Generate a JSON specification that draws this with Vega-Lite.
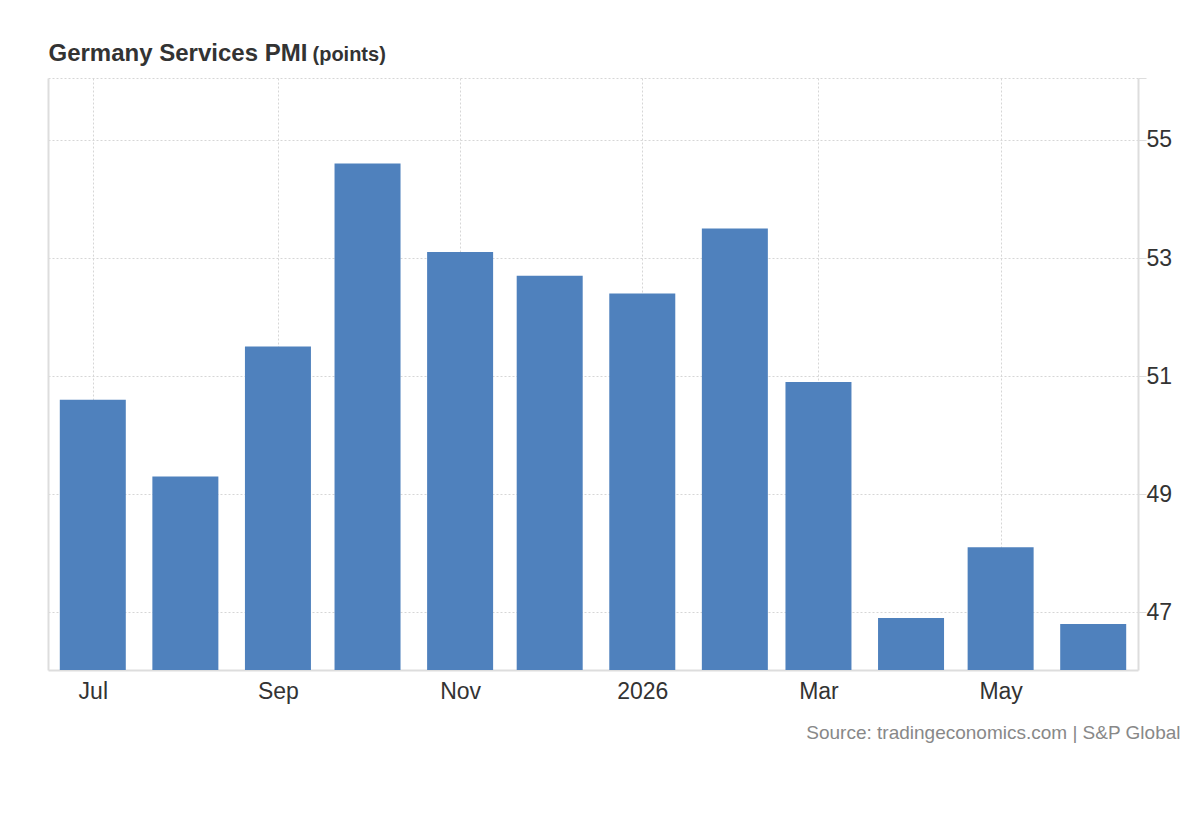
{
  "$schema": "https://vega.github.io/schema/vega-lite/v6.json",
  "autosize": {"type": "none"},
  "padding": {"left": 48, "top": 78, "right": 62, "bottom": 150},
  "width": 1090,
  "height": 592,
  "background": "white",
  "config": {
    "view": {"stroke": null},
    "font": "Liberation Sans"
  },
  "data": {
    "values": [
      {"month": "2025-07-01", "pmi": 50.6},
      {"month": "2025-08-01", "pmi": 49.3},
      {"month": "2025-09-01", "pmi": 51.5},
      {"month": "2025-10-01", "pmi": 54.6},
      {"month": "2025-11-01", "pmi": 53.1},
      {"month": "2025-12-01", "pmi": 52.7},
      {"month": "2026-01-01", "pmi": 52.4},
      {"month": "2026-02-01", "pmi": 53.5},
      {"month": "2026-03-01", "pmi": 50.9},
      {"month": "2026-04-01", "pmi": 46.9},
      {"month": "2026-05-01", "pmi": 48.1},
      {"month": "2026-06-01", "pmi": 46.8}
    ]
  },
  "layer": [
    {
      "mark": {"type": "bar", "width": 66, "color": "#4f81bd", "clip": true},
      "encoding": {
        "x": {
          "field": "month",
          "type": "temporal",
          "scale": {
            "type": "utc",
            "padding": 0,
            "domain": [
              {"year": 2025, "month": 6, "date": 16, "utc": true},
              {"year": 2026, "month": 6, "date": 16, "utc": true}
            ]
          },
          "axis": {
            "values": [
              {"year": 2025, "month": 7, "date": 1, "utc": true},
              {"year": 2025, "month": 9, "date": 1, "utc": true},
              {"year": 2025, "month": 11, "date": 1, "utc": true},
              {"year": 2026, "month": 1, "date": 1, "utc": true},
              {"year": 2026, "month": 3, "date": 1, "utc": true},
              {"year": 2026, "month": 5, "date": 1, "utc": true}
            ],
            "labelExpr": "utcmonth(datum.value) == 0 ? utcFormat(datum.value, '%Y') : utcFormat(datum.value, '%b')",
            "labelFontSize": 23,
            "labelColor": "#333333",
            "labelPadding": 10,
            "ticks": false,
            "domainColor": "#dddddd",
            "domainWidth": 2,
            "grid": true,
            "gridColor": "#d6d6d6",
            "gridDash": [2, 2],
            "title": "Source: tradingeconomics.com | S&P Global",
            "titleFontSize": 19,
            "titleFontWeight": "normal",
            "titleColor": "#888888",
            "titleAlign": "right",
            "titleBaseline": "alphabetic",
            "titleX": 1132,
            "titleY": 68
          }
        },
        "y": {
          "field": "pmi",
          "type": "quantitative",
          "scale": {"domain": [46.02, 56.05], "zero": false, "nice": false},
          "axis": {
            "orient": "right",
            "values": [47, 49, 51, 53, 55, 56.05],
            "labelExpr": "datum.value > 55.5 ? '' : datum.label",
            "labelFontSize": 23,
            "labelColor": "#333333",
            "labelPadding": 0,
            "tickSize": 8,
            "tickColor": "#dddddd",
            "domainColor": "#dddddd",
            "domainWidth": 2,
            "grid": true,
            "gridColor": "#d6d6d6",
            "gridDash": [2, 2],
            "title": "(points)",
            "titleAngle": 0,
            "titleFontSize": 20,
            "titleFontWeight": "bold",
            "titleColor": "#333333",
            "titleAlign": "left",
            "titleBaseline": "alphabetic",
            "titleX": -826,
            "titleY": -18
          }
        }
      }
    },
    {
      "mark": {"type": "bar", "width": 66, "opacity": 0, "clip": true},
      "encoding": {
        "x": {"field": "month", "type": "temporal"},
        "y": {
          "field": "pmi",
          "type": "quantitative",
          "axis": {
            "orient": "left",
            "labels": false,
            "ticks": false,
            "grid": false,
            "domainColor": "#dddddd",
            "domainWidth": 2,
            "title": "Germany Services PMI",
            "titleAngle": 0,
            "titleFontSize": 24,
            "titleFontWeight": "bold",
            "titleColor": "#333333",
            "titleAlign": "left",
            "titleBaseline": "alphabetic",
            "titleX": 0,
            "titleY": -18
          }
        }
      }
    }
  ],
  "resolve": {"axis": {"y": "independent"}}
}
